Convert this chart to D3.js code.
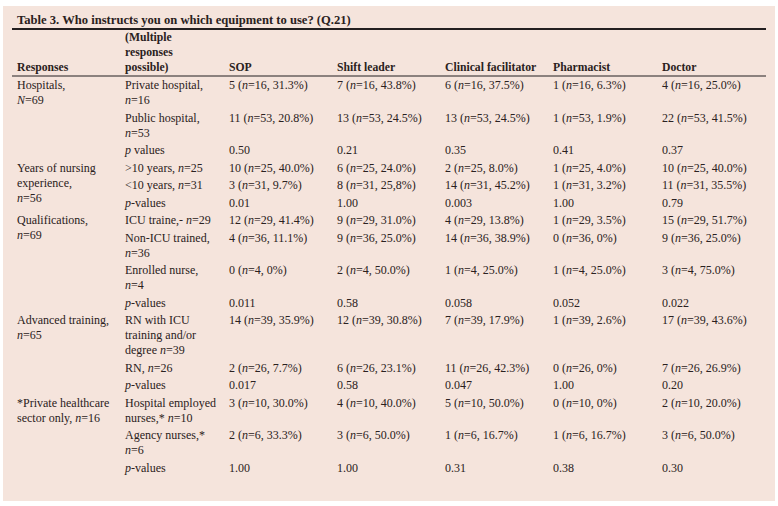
<!DOCTYPE html>
<html lang="en">
    <head>
        <meta charset="utf-8">
        <title>Table 3</title>
        <script type="text/javascript" src="https://cdn.jsdelivr.net/npm/d3@7"></script>
        <style>
            body { margin: 0; background: #ffffff; }
            text { font-family: "Liberation Serif", "DejaVu Serif", serif; fill: #2a2120; }
        </style>
    </head>
    <body>
        <script type="text/javascript">
            var w = 778;
            var h = 506;

            var title = "Table 3. Who instructs you on which equipment to use? (Q.21)";
            var columns = ["Responses", "(Multiple responses possible)", "SOP", "Shift leader", "Clinical facilitator", "Pharmacist", "Doctor"];
            var headerLines = [["Responses"], ["(Multiple", "responses", "possible)"], ["SOP"], ["Shift leader"], ["Clinical facilitator"], ["Pharmacist"], ["Doctor"]];

            var groupLabels = [
                ["Hospitals,", "N=69"],
                ["Years of nursing", "experience,", "n=56"],
                ["Qualifications,", "n=69"],
                ["Advanced training,", "n=65"],
                ["*Private healthcare", "sector only, n=16"]
            ];
            var groupSizes = [3, 3, 4, 3, 3];

            var subgroups = [
                ["Private hospital,", "n=16"], ["Public hospital,", "n=53"], ["p values"],
                [">10 years, n=25"], ["<10 years, n=31"], ["p-values"],
                ["ICU traine,- n=29"], ["Non-ICU trained,", "n=36"], ["Enrolled nurse,", "n=4"], ["p-values"],
                ["RN with ICU", "training and/or", "degree n=39"], ["RN, n=26"], ["p-values"],
                ["Hospital employed", "nurses,* n=10"], ["Agency nurses,*", "n=6"], ["p-values"]
            ];

            var sop = ["5 (n=16, 31.3%)", "11 (n=53, 20.8%)", "0.50", "10 (n=25, 40.0%)", "3 (n=31, 9.7%)", "0.01",
                "12 (n=29, 41.4%)", "4 (n=36, 11.1%)", "0 (n=4, 0%)", "0.011", "14 (n=39, 35.9%)", "2 (n=26, 7.7%)", "0.017",
                "3 (n=10, 30.0%)", "2 (n=6, 33.3%)", "1.00"];
            var shiftLeader = ["7 (n=16, 43.8%)", "13 (n=53, 24.5%)", "0.21", "6 (n=25, 24.0%)", "8 (n=31, 25,8%)", "1.00",
                "9 (n=29, 31.0%)", "9 (n=36, 25.0%)", "2 (n=4, 50.0%)", "0.58", "12 (n=39, 30.8%)", "6 (n=26, 23.1%)", "0.58",
                "4 (n=10, 40.0%)", "3 (n=6, 50.0%)", "1.00"];
            var clinical = ["6 (n=16, 37.5%)", "13 (n=53, 24.5%)", "0.35", "2 (n=25, 8.0%)", "14 (n=31, 45.2%)", "0.003",
                "4 (n=29, 13.8%)", "14 (n=36, 38.9%)", "1 (n=4, 25.0%)", "0.058", "7 (n=39, 17.9%)", "11 (n=26, 42.3%)", "0.047",
                "5 (n=10, 50.0%)", "1 (n=6, 16.7%)", "0.31"];
            var pharmacist = ["1 (n=16, 6.3%)", "1 (n=53, 1.9%)", "0.41", "1 (n=25, 4.0%)", "1 (n=31, 3.2%)", "1.00",
                "1 (n=29, 3.5%)", "0 (n=36, 0%)", "1 (n=4, 25.0%)", "0.052", "1 (n=39, 2.6%)", "0 (n=26, 0%)", "1.00",
                "0 (n=10, 0%)", "1 (n=6, 16.7%)", "0.38"];
            var doctor = ["4 (n=16, 25.0%)", "22 (n=53, 41.5%)", "0.37", "10 (n=25, 40.0%)", "11 (n=31, 35.5%)", "0.79",
                "15 (n=29, 51.7%)", "9 (n=36, 25.0%)", "3 (n=4, 75.0%)", "0.022", "17 (n=39, 43.6%)", "7 (n=26, 26.9%)", "0.20",
                "2 (n=10, 20.0%)", "3 (n=6, 50.0%)", "0.30"];
            var valueColumns = [sop, shiftLeader, clinical, pharmacist, doctor];

            // layout
            var font_size = 12;
            var head_size = 11.7;
            var line_h = 15;
            var row_gap = 1 / 6;   // extra space between rows, in line units
            var first_baseline = 89;
            var rule_x0 = 12, rule_x1 = 766;

            var svg = d3.select("body").append("svg").attr("width", w).attr("height", h);

            svg.append("rect").attr("x", 3).attr("y", 6).attr("width", 772).attr("height", 495).attr("fill", "#f5e4dc");

            var xscale = d3.scaleOrdinal().domain(columns).range([17, 125, 229, 337, 445, 553, 662]);

            // cumulative row offsets in line units
            var rowStart = [];
            var acc = 0;
            subgroups.forEach(function (s) { rowStart.push(acc); acc += s.length + row_gap; });
            var yscale = d3.scaleLinear().domain([0, acc]).range([first_baseline, first_baseline + acc * line_h]);

            // italic n=, N= and p of p-values
            function addRich(sel, str) {
                var parts = str.split(/(\b[nN](?==)|^p(?=[ -]values))/);
                parts.forEach(function (p) {
                    if (p === "") return;
                    var t = sel.append("tspan").text(p);
                    if (/^[nNp]$/.test(p)) t.attr("font-style", "italic");
                });
            }

            function multiline(g, lines, x, y0, bold) {
                lines.forEach(function (ln, k) {
                    var t = g.append("text")
                        .attr("x", x)
                        .attr("y", y0 + k * line_h)
                        .attr("font-size", (bold ? head_size : font_size) + "px")
                        .attr("font-weight", bold ? "bold" : "normal");
                    addRich(t, ln);
                });
            }

            // title + rules
            svg.append("text").attr("x", 17).attr("y", 24)
               .attr("font-size", "12.6px").attr("font-weight", "bold").text(title);
            svg.append("line").attr("x1", rule_x0).attr("x2", rule_x1).attr("y1", 29).attr("y2", 29)
               .attr("stroke", "#231f20").attr("stroke-width", 2);
            svg.append("line").attr("x1", rule_x0).attr("x2", rule_x1).attr("y1", 76).attr("y2", 76)
               .attr("stroke", "#231f20").attr("stroke-width", 1);

            // header, bottom aligned
            var head = svg.append("g");
            headerLines.forEach(function (lines, i) {
                multiline(head, lines, xscale(columns[i]), 71 - (lines.length - 1) * line_h, true);
            });

            // group labels
            var body = svg.append("g");
            var r = 0;
            groupLabels.forEach(function (lines, i) {
                multiline(body, lines, xscale(columns[0]), yscale(rowStart[r]), false);
                r += groupSizes[i];
            });

            // sub rows and cells
            subgroups.forEach(function (lines, i) {
                var y = yscale(rowStart[i]);
                multiline(body, lines, xscale(columns[1]), y, false);
                valueColumns.forEach(function (col, j) {
                    multiline(body, [col[i]], xscale(columns[j + 2]), y, false);
                });
            });
        </script>
    </body>
</html>
